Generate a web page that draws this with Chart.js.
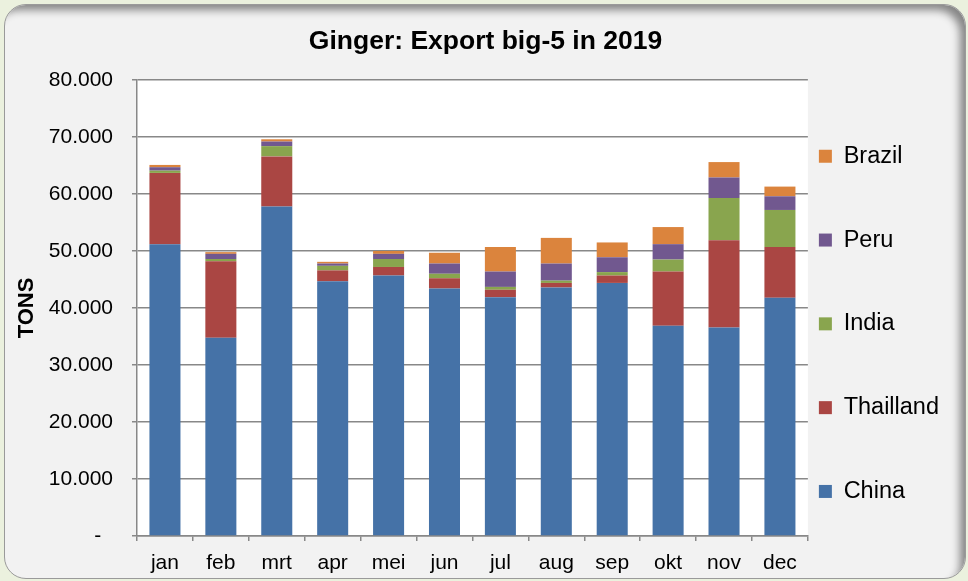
<!DOCTYPE html>
<html>
<head>
<meta charset="utf-8">
<script src="https://cdn.jsdelivr.net/npm/chart.js@4"></script>
<style>
  body { margin: 0; background: #ebf1de; }
  .frame {
    position: absolute; left: 4px; top: 4px; width: 960px; height: 573px;
    border: 1px solid #9a9a9a; border-radius: 22px; background: #f2f2f2;
    box-shadow: inset -8px 8px 8px -3px rgba(0,0,0,0.45);
  }
  canvas { position: absolute; left: 0; top: 0; }
</style>
</head>
<body>
<div class="frame"></div>
<canvas id="exportChart" width="968" height="581"></canvas>
<script>
const months = ['jan', 'feb', 'mrt', 'apr', 'mei', 'jun', 'jul', 'aug', 'sep', 'okt', 'nov', 'dec'];

// tons per month
const china    = [51200, 34800, 57800, 44700, 45700, 43400, 41900, 43600, 44400, 36900, 36600, 41800];
const thailand = [12500, 13400,  8800,  1900,  1500,  1800,  1300,   800,  1300,  9500, 15300,  8900];
const india    = [  400,   400,  1800,   800,  1400,   800,   500,   400,   600,  2100,  7400,  6500];
const peru     = [  600,   900,   800,   400,   900,  1800,  2700,  3000,  2600,  2700,  3600,  2400];
const brazil   = [  400,   300,   400,   300,   500,  1900,  4300,  4500,  2600,  3000,  2700,  1700];

const yMax = 80000;
const yStep = 10000;

const gridGray = '#888888';
const font = 'Liberation Sans, Arial, sans-serif';

function series(label, data, color) {
    return {
        label: label,
        data: data,
        backgroundColor: color,
        borderWidth: 0,
        categoryPercentage: 1,
        barPercentage: 0.555
    };
}

// white plot area like the excel chart
const plotBackground = {
    id: 'plotBackground',
    beforeDraw(chart) {
        const a = chart.chartArea;
        const ctx = chart.ctx;
        ctx.save();
        ctx.fillStyle = '#ffffff';
        ctx.fillRect(a.left, a.top, a.right - a.left, a.bottom - a.top);
        ctx.restore();
    }
};

const ctx = document.getElementById('exportChart').getContext('2d');
const myChart = new Chart(ctx, {
    type: 'bar',
    data: {
        labels: months,
        datasets: [
            series('China', china, '#4572a7'),
            series('Thailland', thailand, '#aa4643'),
            series('India', india, '#89a54e'),
            series('Peru', peru, '#71588f'),
            series('Brazil', brazil, '#db843d')
        ]
    },
    options: {
        responsive: false,
        animation: false,
        layout: { padding: { left: 22, right: 19, top: 0, bottom: 0 } },
        plugins: {
            title: {
                display: true,
                text: 'Ginger: Export big-5 in 2019',
                color: '#000',
                font: { family: font, size: 26.5, weight: 'bold' },
                padding: { top: 26, bottom: 22.2 }
            },
            legend: {
                position: 'right',
                align: 'start',
                reverse: true,
                title: { display: true, text: ' ', font: { size: 10, lineHeight: '12px' }, padding: { top: 121.5, bottom: 0 } },
                labels: {
                    color: '#000',
                    boxWidth: 13,
                    boxHeight: 13,
                    padding: 11,
                    font: { family: font, size: 23.5, lineHeight: '72.8px' },
                    generateLabels(chart) {
                        const items = Chart.defaults.plugins.legend.labels.generateLabels(chart);
                        items.forEach(it => { it.text = [it.text]; });
                        return items;
                    }
                }
            },
            tooltip: { enabled: false }
        },
        scales: {
            x: {
                stacked: true,
                afterFit(scale) { scale.height = 45; },
                grid: { drawOnChartArea: false, drawTicks: true, tickLength: 5, color: gridGray, lineWidth: 1.5 },
                border: { display: true, color: gridGray, width: 1.5 },
                ticks: { color: '#000', padding: 9.7, font: { family: font, size: 21 } }
            },
            y: {
                stacked: true,
                min: 0,
                max: yMax,
                afterFit(scale) { scale.width = 115; },
                grid: { color: gridGray, lineWidth: 1.5, tickLength: 5 },
                border: { display: true, color: gridGray, width: 1.5 },
                ticks: {
                    stepSize: yStep,
                    color: '#000',
                    padding: 19,
                    font: { family: font, size: 21 },
                    callback(value) {
                        if (value === 0) return '-  ';
                        return (value / 1000).toFixed(3);
                    }
                },
                title: {
                    display: true,
                    text: 'TONS',
                    color: '#000',
                    font: { family: font, size: 22, weight: 'bold', lineHeight: '8px' },
                    padding: { top: 0.5, bottom: 0 }
                }
            }
        }
    },
    plugins: [plotBackground]
});
</script>
</body>
</html>
